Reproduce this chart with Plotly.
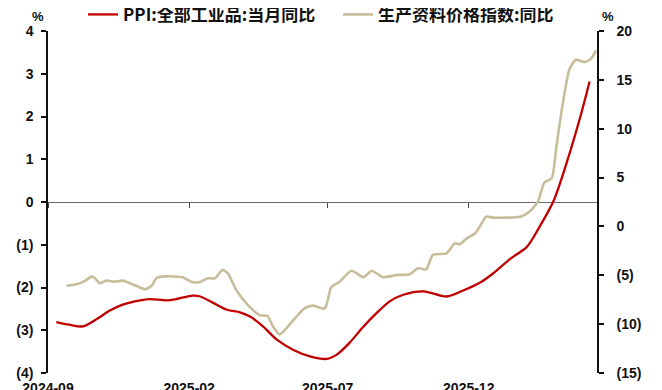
import plotly.graph_objects as go

# PPI: 全部工业品: 当月同比 (left axis, %)
ppi_dates = ["2024-09-10", "2024-09-24", "2024-10-09", "2024-10-23", "2024-11-07", "2024-11-21",
             "2024-12-10", "2024-12-20", "2025-01-08", "2025-01-18", "2025-02-05", "2025-02-13",
             "2025-02-27", "2025-03-14", "2025-03-28", "2025-04-08", "2025-04-22", "2025-05-07",
             "2025-05-25", "2025-06-12", "2025-06-30", "2025-07-11", "2025-07-25", "2025-08-07",
             "2025-08-23", "2025-09-06", "2025-09-21", "2025-10-13", "2025-11-07", "2025-11-25",
             "2025-12-13", "2025-12-28", "2026-01-15", "2026-02-02", "2026-02-16", "2026-03-03",
             "2026-03-17", "2026-04-01", "2026-04-11"]
ppi_vals = [-2.81, -2.87, -2.91, -2.75, -2.54, -2.40,
            -2.30, -2.27, -2.30, -2.27, -2.19, -2.21,
            -2.36, -2.52, -2.58, -2.68, -2.91, -3.22,
            -3.46, -3.61, -3.67, -3.57, -3.29, -2.96,
            -2.60, -2.33, -2.17, -2.09, -2.21, -2.07,
            -1.89, -1.66, -1.33, -1.05, -0.57, 0.03,
            0.91, 2.00, 2.82]

# 生产资料价格指数: 同比 (right axis, %)
prod_dates = ["2024-09-21", "2024-10-02", "2024-10-11", "2024-10-18", "2024-10-22", "2024-10-27",
              "2024-11-03", "2024-11-12", "2024-11-21", "2024-12-06", "2024-12-15", "2024-12-22",
              "2024-12-28", "2025-01-07", "2025-01-25", "2025-02-03", "2025-02-12", "2025-02-21",
              "2025-03-01", "2025-03-09", "2025-03-15", "2025-03-24", "2025-04-04", "2025-04-18",
              "2025-04-27", "2025-05-03", "2025-05-10", "2025-05-25", "2025-06-06", "2025-06-15",
              "2025-06-28", "2025-07-05", "2025-07-14", "2025-07-27", "2025-08-09", "2025-08-18",
              "2025-08-30", "2025-09-14", "2025-09-28", "2025-10-07", "2025-10-16", "2025-10-23",
              "2025-11-07", "2025-11-16", "2025-11-21", "2025-11-29", "2025-12-08", "2025-12-13",
              "2025-12-20", "2025-12-28", "2026-01-26", "2026-02-05", "2026-02-14", "2026-02-21",
              "2026-03-01", "2026-03-06", "2026-03-13", "2026-03-20", "2026-03-27", "2026-04-06",
              "2026-04-13", "2026-04-18"]
prod_vals = [-6.07, -5.92, -5.58, -5.14, -5.31, -5.82,
             -5.55, -5.65, -5.55, -6.10, -6.43, -6.10,
             -5.25, -5.11, -5.21, -5.66, -5.72, -5.31,
             -5.31, -4.46, -4.80, -6.51, -7.87, -9.07,
             -9.17, -10.27, -11.05, -9.58, -8.38, -8.11,
             -8.38, -6.23, -5.66, -4.53, -5.20, -4.53,
             -5.20, -4.97, -4.90, -4.28, -4.39, -2.92,
             -2.75, -1.72, -1.82, -1.21, -0.70, -0.02,
             1.00, 0.90, 1.00, 1.52, 2.54, 4.49,
             4.94, 8.18, 12.62, 16.03, 17.06, 16.82,
             17.23, 18.01]

x_ticks = ["2024-09-01", "2025-02-01", "2025-07-01", "2025-12-01"]
x_text = ["2024-09", "2025-02", "2025-07", "2025-12"]
left_ticks = [4, 3, 2, 1, 0, -1, -2, -3, -4]
left_text = ["4", "3", "2", "1", "0", "(1)", "(2)", "(3)", "(4)"]
right_ticks = [20, 15, 10, 5, 0, -5, -10, -15]
right_text = ["20", "15", "10", "5", "0", "(5)", "(10)", "(15)"]

RED = "#C00000"
TAN = "#C6BD9B"
tick_font = dict(family="Liberation Sans, Arial", size=14, color="#111111", weight="bold")
x_range = ["2024-09-01", "2026-04-19"]

fig = go.Figure()
fig.add_trace(go.Scatter(x=ppi_dates, y=ppi_vals, name="PPI:全部工业品:当月同比",
                         mode="lines", line=dict(color=RED, width=2.3, shape="spline", smoothing=0.8),
                         xaxis="x", yaxis="y"))
fig.add_trace(go.Scatter(x=prod_dates, y=prod_vals, name="生产资料价格指数:同比",
                         mode="lines", line=dict(color=TAN, width=2.6, shape="spline", smoothing=0.6),
                         xaxis="x2", yaxis="y2"))

# page body keeps its default 8px margin, so the figure is sized 8px smaller
fig.update_layout(
    width=654, height=382,
    margin=dict(l=40, r=65, t=23, b=17, autoexpand=False),
    plot_bgcolor="white", paper_bgcolor="white",
    showlegend=True,
    legend=dict(orientation="h", xref="container", x=0.1147, xanchor="left",
                yref="container", y=0.982, yanchor="middle",
                font=dict(family="Noto Sans CJK SC", size=17, color="#111111", weight="bold"),
                bgcolor="rgba(0,0,0,0)", entrywidth=210, entrywidthmode="pixels"),
    xaxis=dict(type="date", range=x_range, tickvals=x_ticks, ticktext=x_text,
               showline=False, showgrid=False, zeroline=False, ticks="",
               ticklabelstandoff=5, tickfont=tick_font),
    xaxis2=dict(type="date", overlaying="x", anchor="free", position=0.5, range=x_range,
                tickvals=x_ticks, showticklabels=False, showline=False, showgrid=False,
                zeroline=False, ticks="outside", ticklen=5, tickcolor="#444444", tickwidth=1),
    yaxis=dict(range=[-4, 4], tickvals=left_ticks, ticktext=left_text, showgrid=False,
               zeroline=True, zerolinecolor="#6a6a6a", zerolinewidth=1,
               showline=True, linecolor="#111111", linewidth=1.5,
               ticks="outside", ticklen=5, tickcolor="#111111", tickwidth=1.5,
               ticklabelstandoff=5, tickfont=tick_font),
    yaxis2=dict(range=[-15, 20], tickvals=right_ticks, ticktext=right_text, overlaying="y",
                side="right", anchor="x2", showgrid=False, zeroline=False,
                showline=True, linecolor="#111111", linewidth=1.5,
                ticks="outside", ticklen=5, tickcolor="#111111", tickwidth=1.5,
                ticklabelstandoff=10, tickfont=tick_font),
)

fig.add_annotation(text="%", x=0, xref="paper", xanchor="right", xshift=-2, y=1.0, yref="paper",
                   yanchor="bottom", yshift=5, showarrow=False,
                   font=dict(family="Liberation Sans", size=13, color="#111111", weight="bold"))
fig.add_annotation(text="%", x=1, xref="paper", xanchor="left", xshift=3, y=1.0, yref="paper",
                   yanchor="bottom", yshift=5, showarrow=False,
                   font=dict(family="Liberation Sans", size=13, color="#111111", weight="bold"))

fig.write_html("out.html")
